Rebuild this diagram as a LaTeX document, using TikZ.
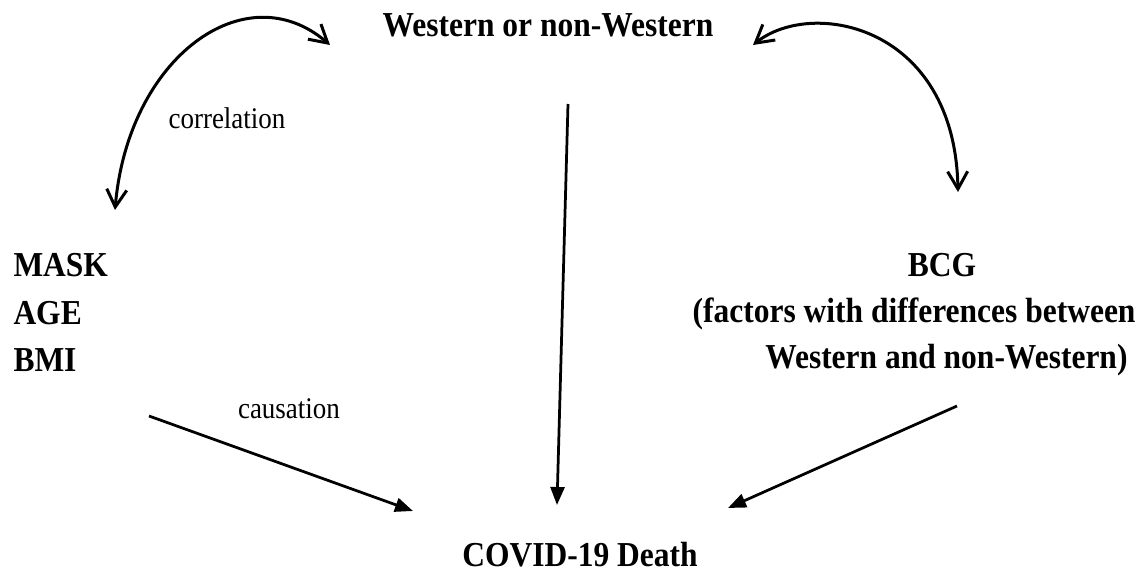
\documentclass[tikz,border=0pt]{standalone}
\usepackage{fontspec}
\setmainfont{Liberation Serif}[FakeStretch=0.9]
\usepackage{tikz}
\usetikzlibrary{arrows.meta}
\tikzset{boldtxt/.style={font=\fontsize{14}{16}\selectfont\bfseries, inner sep=0pt},
	plaintxt/.style={font=\fontsize{12}{14}\selectfont, inner sep=0pt},
	corrarrow/.style={line width=1.2pt, {Straight Barb[length=7pt,width=8pt]}-{Straight Barb[length=7pt,width=8pt]}},
	causearrow/.style={line width=1.1pt, -{Triangle[length=7.2pt,width=5.6pt]}}}

\begin{document}
\begin{tikzpicture}[x=0.4pt, y=-0.4pt]
	
	\useasboundingbox (0,0) rectangle (1148,572);
	
	\node [boldtxt, anchor=base] (west) at (548,37) {Western or non-Western};
	\node [boldtxt, anchor=base] (death) at (580,566) {COVID-19 Death};
	
	% left factors
	\node [boldtxt, anchor=base west] (mask) at (13,277) {MASK};
	\node [boldtxt, anchor=base west] (age) at (13,325) {AGE};
	\node [boldtxt, anchor=base west] (bmi) at (13,372) {BMI};
	
	% right factors
	\node [boldtxt, anchor=base] (bcg) at (942,277) {BCG};
	\node [boldtxt, anchor=base east] (diff) at (1136,323) {(factors with differences between};
	\node [boldtxt, anchor=base east] (wnw) at (1128,369) {Western and non-Western)};
	
	\node [plaintxt, anchor=base] (corr) at (227,129) {correlation};
	\node [plaintxt, anchor=base] (cause) at (289,419) {causation};
	
	\coordinate (leftlow) at (115,210);
	\coordinate (lefthigh) at (330,45);
	\coordinate (righthigh) at (753,45);
	\coordinate (rightlow) at (958,192);
	
	\draw [corrarrow] (leftlow) .. controls (128,58) and (245,-28) .. (lefthigh);
	\draw [corrarrow] (righthigh) .. controls (812,-2) and (955,25) .. (rightlow);
	
	\coordinate (midtop) at (568,104);
	\coordinate (midtip) at (557,505);
	\coordinate (lefttail) at (149,416);
	\coordinate (lefttip) at (413,511);
	\coordinate (righttail) at (957,406);
	\coordinate (righttip) at (728,508);
	
	\draw [causearrow] (midtop) -- (midtip);
	\draw [causearrow] (lefttail) -- (lefttip);
	\draw [causearrow] (righttail) -- (righttip);
	
\end{tikzpicture}
\end{document}
